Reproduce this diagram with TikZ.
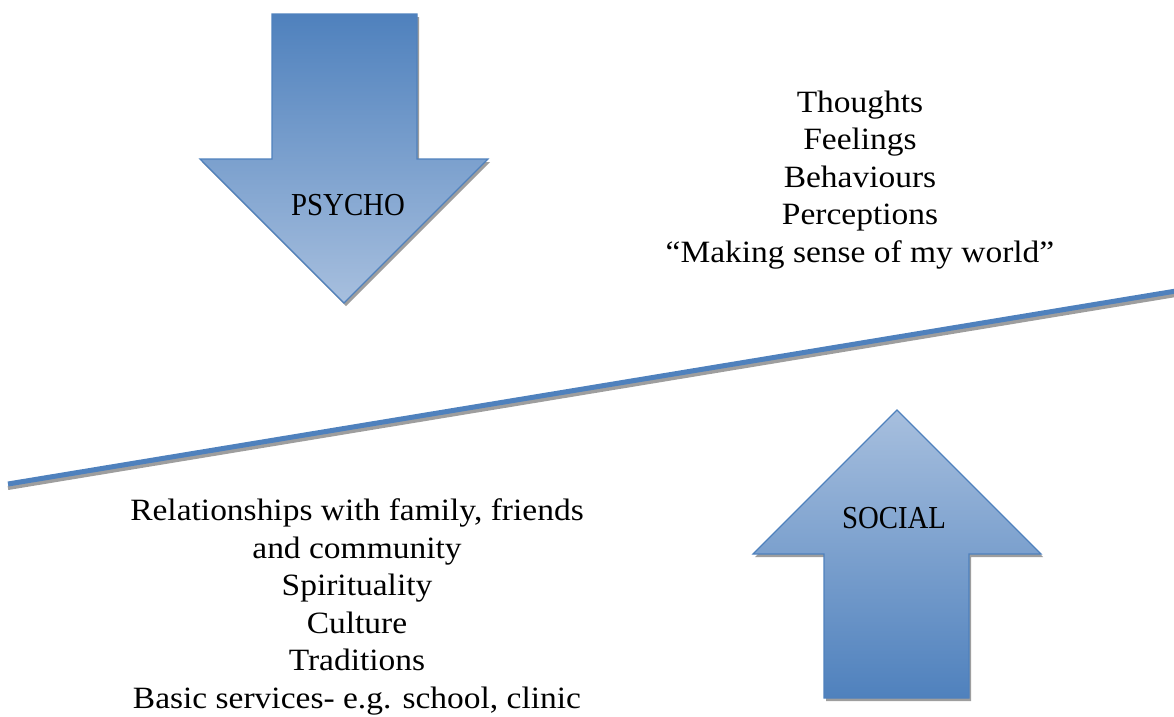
\documentclass[tikz,border=0pt]{standalone}
\usepackage{fontspec}
\setmainfont{Liberation Serif}[FakeStretch=1.08]
\newfontfamily\capsfont{Liberation Serif}[FakeStretch=0.9]
\begin{document}
\begin{tikzpicture}[x=1pt,y=-1pt,
  lbl/.style={font=\fontsize{31}{37.5}\selectfont,align=center,inner sep=0pt},
  caplbl/.style={font=\capsfont\fontsize{32}{37.5}\selectfont,inner sep=0pt},
  arrowshadow/.style={fill=black!38,draw=none},
  arrowbody/.style={draw=arrowblue,line width=1.1pt,line join=miter},
  ]
\definecolor{arrowblue}{RGB}{79,129,189}
\definecolor{lightblue}{RGB}{167,191,222}
\useasboundingbox (0,0) rectangle (1174,716);
% PSYCHO arrow (down)
\fill[arrowshadow] (274,17) -- (419,17) -- (419,162) -- (490,162) -- (346,306) -- (202,162) -- (274,162) -- cycle;
\shade[arrowbody,top color=arrowblue,bottom color=lightblue]
  (272,14) -- (417,14) -- (417,159) -- (488,159) -- (344,303) -- (200,159) -- (272,159) -- cycle;
\node[caplbl] (psycho) at (348,205) {PSYCHO};
% SOCIAL arrow (up)
\fill[arrowshadow] (899,413) -- (1043,557) -- (971,557) -- (971,701) -- (826,701) -- (826,557) -- (755,557) -- cycle;
\shade[arrowbody,top color=lightblue,bottom color=arrowblue]
  (897,410) -- (1041,554) -- (969,554) -- (969,698) -- (824,698) -- (824,554) -- (753,554) -- cycle;
\node[caplbl] (social) at (894,518) {SOCIAL};
% dividing line
\coordinate (lineL) at (8,484);
\coordinate (lineR) at (1176,291);
\draw[black!38,line width=4pt] ([yshift=-4pt]lineL) -- ([yshift=-4pt]lineR);
\draw[arrowblue,line width=5pt] (lineL) -- (lineR);
% texts
\node[lbl] (psychotext) at (860,180) {Thoughts\\Feelings\\Behaviours\\Perceptions\\“Making sense of my world”};
\node[lbl] (socialtext) at (357,607) {Relationships with family, friends\\and community\\Spirituality\\Culture\\Traditions\\Basic services- e.g. school, clinic};
\end{tikzpicture}
\end{document}
